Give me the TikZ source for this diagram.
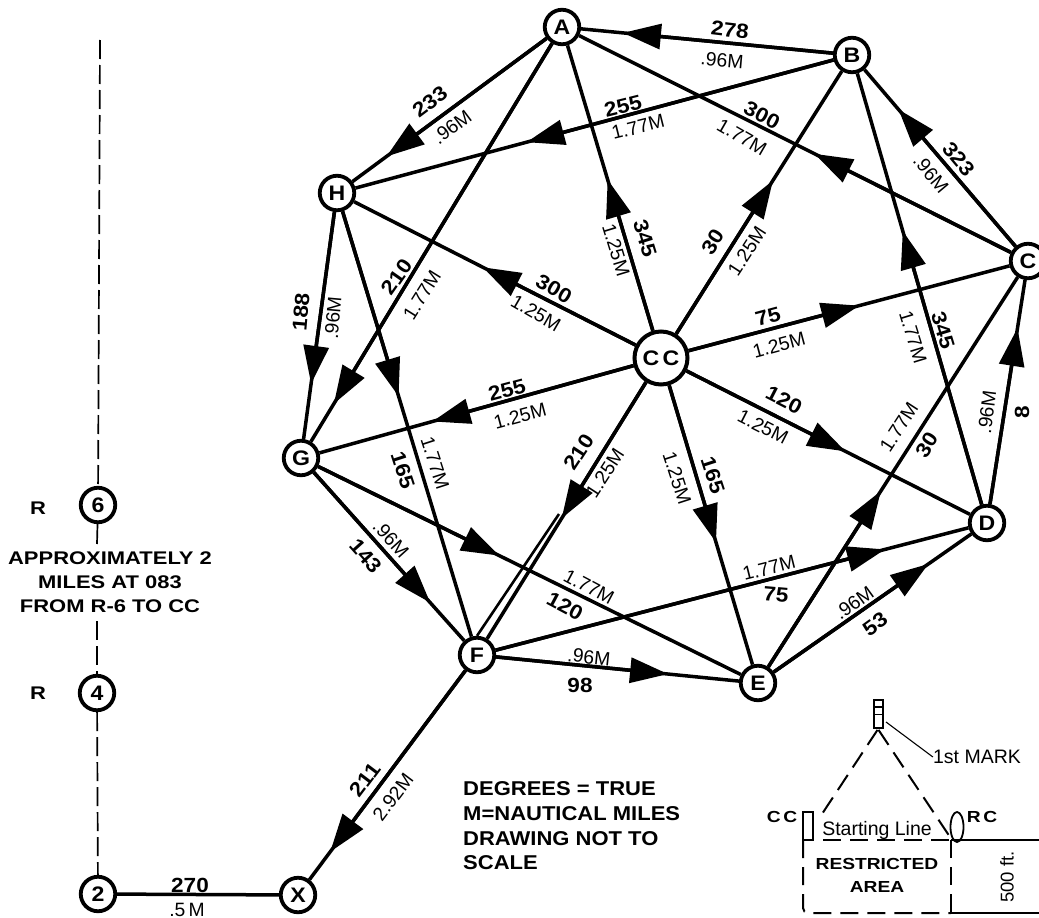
\documentclass[tikz,border=0pt]{standalone}
\usepackage{fontspec}
\usetikzlibrary{calc,arrows.meta,shapes.geometric}
\setmainfont{Liberation Sans}
\newfontfamily\wideb[FakeStretch=1.2]{Liberation Sans Bold}
\newfontfamily\numb[FakeStretch=1.1]{Liberation Sans Bold}
\newcounter{labc}
\tikzset{
  x=1pt,y=-1pt,
  station/.style={circle,draw=black,fill=white,line width=3.8pt,minimum size=34.5pt,inner sep=0pt,font=\numb\fontsize{21}{21}\selectfont},
  hub/.style={station,minimum size=53pt,line width=4pt},
  linkline/.style={line width=3.5pt,draw=black},
  headed/.style={linkline,-{Triangle[length=38pt,width=25pt]}},
  numlab/.style={inner sep=0pt,font=\numb\fontsize{20.5}{20.5}\selectfont},
  distlab/.style={inner sep=0pt,font=\fontsize{19.3}{19.3}\selectfont},
  boldtxt/.style={inner sep=0pt,align=center,font=\wideb\fontsize{18.3}{24}\selectfont},
  insetbold/.style={inner sep=0pt,align=center,font=\wideb\fontsize{16}{24}\selectfont},
  insettxt/.style={inner sep=0pt,font=\fontsize{19.5}{19.5}\selectfont},
  thinline/.style={line width=1.8pt,draw=black},
  dashline/.style={line width=2pt,draw=black,dash pattern=on 18pt off 9pt},
  routeline/.style={line width=1.7pt,draw=black,dash pattern=on 19pt off 6pt},
}
\newcommand\link[3]{\draw[linkline] (#1) -- (#2);\draw[headed] (#1) -- ($(#1)!#3!(#2)$);}
\newcommand\nlab[3]{\stepcounter{labc}\node[numlab,rotate=#2] (N\arabic{labc}) at (#1) {#3};}
\newcommand\dlab[3]{\stepcounter{labc}\node[distlab,rotate=#2] (D\arabic{labc}) at (#1) {#3};}
\begin{document}
\begin{tikzpicture}
\useasboundingbox (0,0) rectangle (1039,918);
% stations
\node[station] (A) at (562,27) {A};
\node[station] (B) at (852,55) {B};
\node[station] (C) at (1028,261) {C};
\node[station] (D) at (987,523) {D};
\node[station] (E) at (758,683) {E};
\node[station] (F) at (477,655) {F};
\node[station] (G) at (301,458) {G};
\node[station] (H) at (337,193) {H};
\node[hub] (CC) at (661,358) {C\,C};
\node[station] (X) at (298,895) {X};
\node[station] (R2) at (98,894) {2};
\node[station] (R4) at (97,693) {4};
\node[station] (R6) at (98,505) {6};
% edges
\link{B}{A}{.79}
\link{A}{H}{.78}
\link{B}{H}{.632}
\link{C}{B}{.736}
\link{C}{A}{.458}
\link{CC}{A}{.539}
\link{CC}{B}{.586}
\link{CC}{C}{.54}
\link{CC}{D}{.566}
\link{CC}{E}{.567}
\link{CC}{F}{.54}
\link{CC}{G}{.635}
\link{CC}{H}{.55}
\link{H}{G}{.72}
\link{H}{F}{.44}
\link{A}{G}{.874}
\link{G}{F}{.734}
\link{G}{E}{.434}
\link{F}{E}{.68}
\link{F}{D}{.80}
\link{E}{D}{.744}
\link{E}{C}{.455}
\link{D}{C}{.744}
\link{D}{B}{.624}
\link{F}{X}{.82}
\coordinate (dbl) at (559,514);
\draw[linkline,line width=2.6pt] (F.90) -- (dbl);
\draw[linkline] (R2) -- (X);
% route dashes
\coordinate (top) at (100,40);
\coordinate (gapA) at (97,544);
\coordinate (gapB) at (97,621);
\draw[routeline] (top) -- (R6);
\draw[line width=1.7pt] (R6) -- (gapA);
\draw[routeline] (gapB) -- (R4);
\draw[routeline] (R4) -- (R2);
% bearings and distances
\nlab{730,30}{-7}{278} \dlab{722,60}{-5}{.96M}
\nlab{430,102}{37}{233} \dlab{452,127}{37}{.96M}
\nlab{623,106}{14}{255} \dlab{638,127}{14}{1.77M}
\nlab{762,115}{-28}{300} \dlab{742,137}{-30}{1.77M}
\nlab{959,159}{-50}{323} \dlab{931,174}{-50}{.96M}
\nlab{645,238}{-73}{345} \dlab{616,250}{-73}{1.25M}
\nlab{713,242}{57}{30} \dlab{747,251}{57}{1.25M}
\nlab{554,289}{-30}{300} \dlab{536,313}{-30}{1.25M}
\nlab{768,317}{15}{75} \dlab{779,345}{15}{1.25M}
\nlab{784,400}{-27}{120} \dlab{763,427}{-27}{1.25M}
\nlab{507,390}{15}{255} \dlab{520,416}{15}{1.25M}
\nlab{579,452}{57}{210} \dlab{605,473}{57}{1.25M}
\nlab{713,475}{-72}{165} \dlab{677,478}{-72}{1.25M}
\nlab{397,277}{55}{210} \dlab{422,295}{58}{1.77M}
\nlab{301,312}{85}{188} \dlab{333,318}{85}{.96M}
\nlab{403,470}{-72}{165} \dlab{435,463}{-72}{1.77M}
\nlab{366,556}{-48}{143} \dlab{391,539}{-48}{.96M}
\nlab{565,606}{-28}{120} \dlab{589,587}{-28}{1.77M}
\nlab{776,595}{-5}{75} \dlab{769,568}{14}{1.77M}
\nlab{580,685}{0}{98} \dlab{589,657}{-6}{.96M}
\nlab{875,624}{36}{53} \dlab{854,603}{36}{.96M}
\nlab{927,445}{57}{30} \dlab{899,427}{57}{1.77M}
\nlab{943,330}{-73}{345} \dlab{913,337}{-73}{1.77M}
\nlab{1022,412}{90}{8} \dlab{987,412}{83}{.96M}
\nlab{365,780}{53}{211} \dlab{393,797}{53}{2.92M}
\nlab{190,885}{0}{270} \dlab{187,910}{0}{.5\,M}
% left texts
\node[boldtxt] (r6) at (38,508) {R};
\node[boldtxt] (r4) at (38,693) {R};
\node[boldtxt] (approx) at (110,582) {APPROXIMATELY 2\\MILES AT 083\\FROM R-6 TO CC};
\node[boldtxt,align=left,anchor=west,font=\numb\fontsize{20}{24.7}\selectfont] (notes) at (463,826) {DEGREES = TRUE\\M=NAUTICAL MILES\\DRAWING NOT TO\\SCALE};
% inset
\node[draw,line width=1.8pt,minimum width=9pt,minimum height=28pt,inner sep=0pt] (mark) at (878.5,714) {};
\draw[thinline] (874,707) -- (883,707);
\draw[thinline] (874,714.5) -- (883,714.5);
\node[insettxt] (first) at (977,757) {1st MARK};
\draw[line width=1.1pt] (886,722) -- (first.west);
\node[draw,line width=1.8pt,minimum width=10pt,minimum height=28pt,inner sep=0pt] (ccbox) at (808,826) {};
\node[draw,line width=1.8pt,ellipse,minimum width=13pt,minimum height=30pt,inner sep=0pt] (rcbox) at (957,827) {};
\node[insetbold] (cctext) at (782,817) {C\,C};
\node[insetbold] (rctext) at (982,817) {R\,C};
\node[insettxt] (start) at (877,830) {Starting Line};
\node[insetbold] (restr) at (877,864) {RESTRICTED};
\node[insetbold] (area) at (877,887) {AREA};
\node[insettxt,rotate=90,font=\fontsize{18.5}{18.5}\selectfont] (ft) at (1007,877) {500 ft.};
\coordinate (p1) at (803,840); \coordinate (p2) at (803,913);
\coordinate (p3) at (951,913); \coordinate (p4) at (951,840);
\coordinate (e1) at (1039,840); \coordinate (e2) at (1039,913);
\draw[dashline] (mark.south) ++(-1,1) -- (820,817);
\draw[dashline] (mark.south) ++(0,1) -- (952,840);
\draw[dashline] (823,840) -- (p4);
\draw[dashline,rounded corners=5pt] (p1) -- (p2) -- (p3);
\draw[dashline] (p4) -- (p3);
\draw[thinline] (p4) -- (e1);
\draw[thinline] (p3) -- (e2);
\end{tikzpicture}
\end{document}
